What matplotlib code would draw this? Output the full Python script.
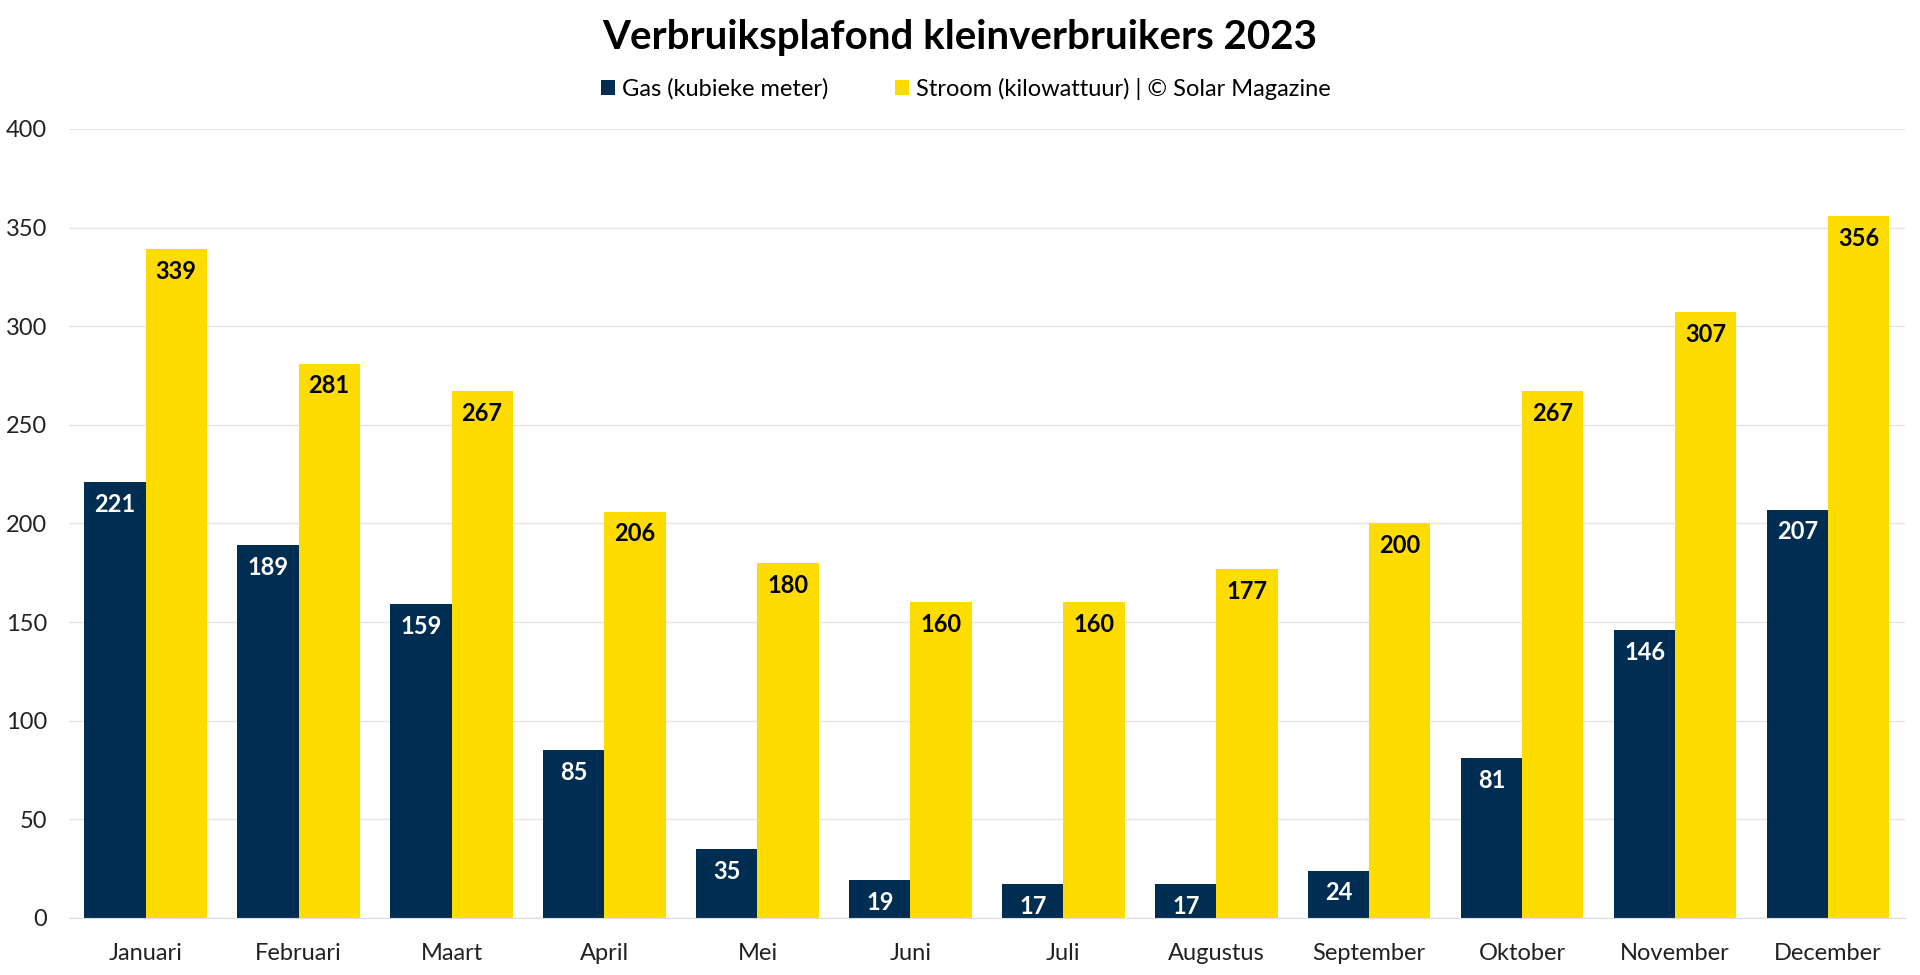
import numpy as np
import matplotlib.pyplot as plt

maanden = ['Januari', 'Februari', 'Maart', 'April', 'Mei', 'Juni', 'Juli',
           'Augustus', 'September', 'Oktober', 'November', 'December']
gas = [221, 189, 159, 85, 35, 19, 17, 17, 24, 81, 146, 207]
stroom = [339, 281, 267, 206, 180, 160, 160, 177, 200, 267, 307, 356]
y_ticks = [0, 50, 100, 150, 200, 250, 300, 350, 400]

kleur_gas = '#002D52'
kleur_stroom = '#FFDC00'

plt.rcParams['font.family'] = ['Lato', 'DejaVu Sans']

fig = plt.figure(figsize=(19.2, 9.75), dpi=100)
ax = fig.add_axes([0.036, 0.0585, 0.956, 0.8092])

x = np.arange(len(maanden))
w = 0.4
b1 = ax.bar(x - w / 2, gas, w, color=kleur_gas, label='Gas (kubieke meter)')
b2 = ax.bar(x + w / 2, stroom, w, color=kleur_stroom,
            label='Stroom (kilowattuur) | © Solar Magazine')

# waardes in de top van de balken
for rect, v in zip(b1, gas):
    ax.annotate(str(v), (rect.get_x() + rect.get_width() / 2, v),
                xytext=(0, -16), textcoords='offset points',
                ha='center', va='center', color='white',
                fontsize=17, fontweight='bold')
for rect, v in zip(b2, stroom):
    ax.annotate(str(v), (rect.get_x() + rect.get_width() / 2, v),
                xytext=(0, -16), textcoords='offset points',
                ha='center', va='center', color='black',
                fontsize=17, fontweight='bold')

ax.set_xlim(-0.5, len(maanden) - 0.5)
ax.set_ylim(0, 400)
ax.set_yticks(y_ticks)
ax.set_xticks(x)
ax.set_xticklabels(maanden)
ax.tick_params(axis='both', length=0, labelsize=17, colors='#222222')
ax.tick_params(axis='y', pad=16)
ax.tick_params(axis='x', pad=18)
ax.grid(axis='y', color='#e6e6e6', linewidth=1)
ax.set_axisbelow(True)
for s in ['top', 'right', 'left']:
    ax.spines[s].set_visible(False)
ax.spines['bottom'].set_color('#dddddd')

fig.suptitle('Verbruiksplafond kleinverbruikers 2023', y=0.98,
             fontsize=29, fontweight='bold')
fig.legend(loc='center', bbox_to_anchor=(0.503, 0.909), ncol=2, frameon=False,
           fontsize=17, handlelength=0.6, handleheight=0.6,
           columnspacing=2.8, handletextpad=0.3)

fig.savefig('out.png', dpi=100, facecolor='white')
